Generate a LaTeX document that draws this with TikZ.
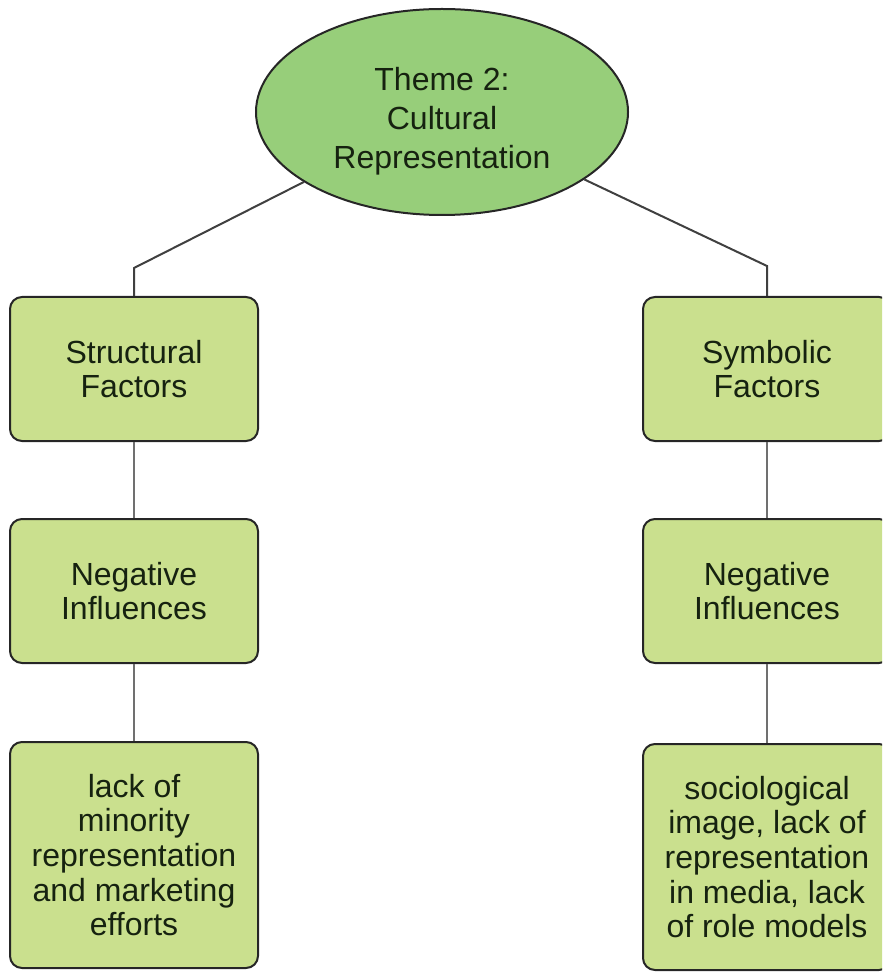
\documentclass[tikz,border=0pt]{standalone}
\usepackage{fontspec}
\setmainfont{Liberation Sans}
\usetikzlibrary{shapes.geometric}
\definecolor{themegreen}{RGB}{151,206,122}
\definecolor{boxgreen}{RGB}{202,224,142}
\definecolor{edgegray}{RGB}{112,112,112}
\definecolor{txtdark}{RGB}{22,34,16}
\begin{document}
\begin{tikzpicture}[x=0.5pt,y=-0.5pt,
    theme/.style={ellipse,draw=black!85,line width=1pt,fill=themegreen,
      minimum width=186pt,minimum height=103pt,align=center,text=txtdark,
      font=\fontsize{16}{19.5}\selectfont},
    factor/.style={rectangle,rounded corners=6pt,draw=black!85,line width=1pt,
      fill=boxgreen,minimum width=124pt,minimum height=72pt,align=center,
      text=txtdark,font=\fontsize{16}{17.3}\selectfont},
    detail/.style={factor,minimum height=113pt}]
      \useasboundingbox (0,0) rectangle (882,972);
      \clip (0,0) rectangle (882,972);
      \draw
        (442,112) node[theme] (theme){\rule{0pt}{21pt}Theme 2:\\Cultural\\Representation}
        (134,369) node[factor] (struct){Structural\\Factors}
        (134,591) node[factor] (structneg){Negative\\Influences}
        (134,855) node[detail] (structlack){lack of\\minority\\representation\\and marketing\\efforts}
        (767,369) node[factor] (symb){Symbolic\\Factors}
        (767,591) node[factor] (symbneg){Negative\\Influences}
        (767,857) node[detail] (symblack){sociological\\image, lack of\\representation\\in media, lack\\of role models};
      \coordinate (bendl) at (134,268);
      \coordinate (bendr) at (767,266);
      \begin{scope}[-,line width=1pt]
        \draw[black!75] (theme) -- (bendl) -- (struct);
        \draw[black!75] (theme) -- (bendr) -- (symb);
        \draw[edgegray,line width=1.4pt] (struct) to (structneg);
        \draw[edgegray,line width=1.4pt] (structneg) to (structlack);
        \draw[edgegray,line width=1.4pt] (symb) to (symbneg);
        \draw[edgegray,line width=1.4pt] (symbneg) to (symblack);
      \end{scope}
    \end{tikzpicture}
\end{document}
